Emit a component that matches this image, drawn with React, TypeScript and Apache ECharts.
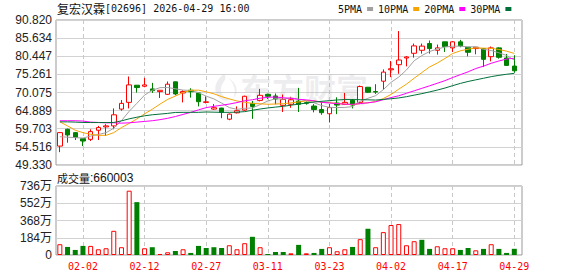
import React, { useEffect, useRef } from "react";
import * as echarts from "echarts";

// ---- data ----
const dates = [
  "01-28", "01-29", "01-30", "02-02", "02-03", "02-04", "02-05", "02-06", "02-09", "02-10",
  "02-11", "02-12", "02-13", "02-16", "02-20", "02-23", "02-24", "02-25", "02-26", "02-27",
  "03-02", "03-03", "03-04", "03-05", "03-06", "03-09", "03-10", "03-11", "03-12", "03-13",
  "03-16", "03-17", "03-18", "03-19", "03-20", "03-23", "03-24", "03-25", "03-26", "03-27",
  "03-30", "03-31", "04-01", "04-02", "04-08", "04-09", "04-10", "04-13", "04-14", "04-15",
  "04-16", "04-17", "04-20", "04-21", "04-22", "04-23", "04-24", "04-27", "04-28", "04-29",
];

const openP = [
  54.74, 59.55, 58.59, 56.86, 56.67, 59.27, 60.23, 60.52, 65.33, 67.25,
  72.16, 71.87, 71.1, 70.33, 69.56, 73.12, 69.94, 70.71, 69.95, 67.25,
  65.33, 65.62, 62.44, 64.27, 65.04, 66.96, 67.82, 69.56, 69.08, 66.4,
  66.7, 67.6, 67.15, 66.2, 65.2, 64.0, 67.06, 66.67, 67.83, 67.25,
  71.58, 70.35, 73.31, 76.58, 78.03, 79.95, 81.3, 82.16, 84.08, 82.16,
  84.57, 82.84, 84.57, 83.03, 82.64, 82.64, 80.33, 82.84, 79.95, 77.64,
];
const closeP = [
  58.59, 57.92, 57.25, 56.19, 58.88, 60.04, 60.52, 63.69, 66.96, 72.25,
  71.49, 72.25, 70.62, 70.71, 72.45, 69.66, 70.33, 70.3, 67.44, 67.4,
  65.72, 64.37, 63.88, 64.85, 68.99, 66.1, 69.27, 68.99, 68.22, 68.1,
  68.0, 66.7, 67.0, 65.2, 64.3, 65.75, 66.48, 67.25, 66.48, 71.77,
  70.14, 70.2, 75.91, 76.87, 79.37, 80.24, 83.41, 83.35, 82.64, 82.84,
  83.22, 84.57, 83.41, 81.58, 83.03, 79.57, 82.84, 80.14, 77.83, 76.29,
];
const lowP = [
  53.0, 55.71, 56.48, 54.74, 56.19, 56.48, 57.63, 59.55, 64.85, 65.52,
  70.04, 71.58, 69.95, 68.51, 69.37, 69.27, 67.25, 68.6, 66.1, 66.96,
  65.14, 62.73, 62.15, 64.08, 64.85, 62.53, 67.54, 68.22, 66.7, 64.5,
  65.7, 64.5, 66.6, 64.4, 63.69, 61.5, 63.88, 66.48, 65.52, 66.77,
  69.95, 69.66, 70.91, 74.46, 75.43, 77.55, 80.05, 81.2, 81.2, 80.91,
  81.68, 81.68, 83.03, 80.43, 81.01, 77.35, 78.99, 79.76, 77.8, 75.72,
];
const highP = [
  58.78, 59.75, 58.78, 56.9, 59.55, 60.52, 61.0, 65.52, 67.92, 74.66,
  72.2, 74.27, 72.83, 70.75, 73.22, 73.2, 70.71, 71.29, 70.0, 68.99,
  66.77, 65.7, 64.08, 66.1, 69.18, 67.64, 71.1, 69.76, 69.8, 69.5,
  68.85, 71.4, 67.5, 66.77, 67.5, 66.8, 68.7, 69.95, 68.22, 72.06,
  71.6, 72.45, 76.68, 79.08, 87.65, 80.53, 84.08, 84.08, 84.95, 83.8,
  84.6, 84.76, 85.14, 83.05, 83.05, 82.7, 83.22, 83.03, 81.1, 80.72,
];

// volume in 万 (10k shares)
const volume = [
  115, 86, 54, 97, 97, 61, 72, 258, 83, 686,
  564, 72, 83, 11, 29, 43, 61, 22, 97, 75,
  83, 75, 104, 61, 126, 194, 83, 11, 32, 32,
  18, 108, 18, 22, 65, 83, 40, 61, 86, 169,
  280, 83, 244, 320, 330, 104, 147, 162, 65, 93,
  72, 72, 54, 75, 50, 65, 115, 65, 22, 66,
];
// 1 = red (hollow) bar, -1 = green bar
const volUp = [
  1, -1, -1, -1, 1, 1, 1, 1, 1, 1,
  -1, 1, -1, 1, 1, -1, 1, -1, -1, -1,
  -1, -1, 1, 1, 1, -1, 1, -1, -1, -1,
  1, -1, 1, -1, -1, 1, 1, 1, -1, 1,
  -1, 1, 1, 1, 1, 1, 1, -1, -1, 1,
  1, 1, -1, -1, 1, -1, 1, -1, -1, -1,
];
const lastVolume = "660003";

const ma5 = [
  57.4, 57.3, 57.15, 57.05, 57.6, 58.06, 58.58, 59.86, 62.02, 64.69,
  66.98, 69.33, 70.71, 71.46, 71.5, 71.14, 70.75, 70.69, 70.03, 69.03,
  68.24, 67.05, 65.76, 65.24, 65.56, 65.64, 66.62, 67.64, 68.31, 68.16,
  68.58, 68.11, 67.71, 67.13, 66.32, 65.84, 65.76, 65.81, 66.04, 67.56,
  68.42, 69.17, 70.9, 72.98, 74.5, 76.52, 79.16, 80.65, 81.8, 82.5,
  83.09, 83.32, 83.34, 83.12, 83.16, 82.43, 82.09, 81.43, 80.68, 79.33,
];
const ma10 = [
  61.67, 60.52, 59.27, 58.59, 58.11, 57.82, 57.82, 58.59, 60.04, 61.23,
  62.52, 63.96, 65.29, 66.74, 68.1, 69.06, 70.04, 70.71, 70.75, 70.27,
  69.7, 68.9, 68.24, 67.65, 67.3, 66.95, 66.84, 66.71, 66.78, 66.86,
  67.11, 67.37, 67.68, 67.72, 67.24, 67.21, 66.94, 66.76, 66.59, 66.94,
  67.13, 67.47, 68.36, 69.51, 71.03, 72.47, 74.17, 75.78, 77.39, 78.5,
  79.81, 81.24, 82.0, 82.46, 82.83, 82.76, 82.71, 82.39, 81.9, 81.25,
];
const ma20 = [
  62.0, 62.0, 62.0, 61.9, 61.6, 61.5, 61.4, 61.4, 61.3, 61.4,
  61.6, 61.8, 62.0, 62.3, 62.7, 63.2, 63.8, 64.4, 65.1, 65.75,
  66.11, 66.43, 66.77, 67.2, 67.7, 68.0, 68.44, 68.71, 68.77, 68.57,
  68.41, 68.14, 67.96, 67.69, 67.27, 67.08, 66.89, 66.74, 66.69, 66.9,
  67.12, 67.42, 68.02, 68.62, 69.14, 69.84, 70.56, 71.27, 71.99, 72.72,
  73.47, 74.36, 75.18, 75.99, 76.93, 77.62, 78.44, 79.09, 79.65, 79.88,
];
const ma30 = [
  61.67, 61.67, 61.6, 61.5, 61.48, 61.48, 61.48, 61.5, 61.96, 62.54,
  63.0, 63.4, 63.7, 63.9, 64.1, 64.37, 64.4, 64.4, 64.4, 64.5,
  64.45, 64.4, 64.4, 64.45, 64.6, 65.0, 65.35, 65.65, 65.9, 66.12,
  66.44, 66.74, 67.07, 67.37, 67.55, 67.74, 67.94, 68.06, 68.04, 68.02,
  67.98, 67.91, 68.09, 68.29, 68.52, 68.88, 69.32, 69.75, 70.25, 70.77,
  71.35, 72.03, 72.68, 73.23, 73.7, 74.15, 74.61, 74.98, 75.29, 75.56,
];

const priceTickLabels = [
  "49.330", "54.516", "59.703", "64.889", "70.075", "75.261", "80.447", "85.634", "90.820",
];
const volTickMax = 7360000;
const volTickStep = 1840000;
const xLabelDates = ["02-02", "02-12", "02-27", "03-11", "03-23", "04-02", "04-17", "04-29"];

const maNames = ["5PMA", "10PMA", "20PMA", "30PMA"];
const maColors = ["#a0a0a0", "#f5a400", "#ff00ff", "#00703a"];

let logoRegistered = false;
function registerLogo() {
  if (logoRegistered) return;
  const d =
    "M12 0 C4 6 1 14 5 21 C8 26 14 28 19 25 C11 25 6 17 11 9 C13 6 15 3 12 0 Z " +
    "M15 3 C22 8 25 17 21 25 C27 19 26 9 15 3 Z";
  echarts.graphic.registerShape("logo", echarts.graphic.extendPath(d, {}));
  logoRegistered = true;
}

export default function App() {
  const ref = useRef<HTMLDivElement>(null);

  useEffect(() => {
    if (!ref.current) return;
    registerLogo();
    const chart = echarts.init(ref.current, null, { renderer: "svg" });

    const priceTicks = priceTickLabels.map(Number);
    const xTickIdx = xLabelDates.map((d) => dates.indexOf(d));
    const n = dates.length;

    const candleData = dates.map((_, i) => [i, openP[i], closeP[i], lowP[i], highP[i]]);
    const volData = volume.map((v, i) => ({
      value: [i, v * 10000],
      itemStyle:
        volUp[i] > 0
          ? { color: "#ffffff", borderColor: "#ff0000", borderWidth: 1 }
          : { color: "#008000", borderColor: "#008000", borderWidth: 0 },
    }));
    const maSeries = [ma5, ma10, ma20, ma30].map((arr, k) => ({
      type: "line",
      name: maNames[k],
      xAxisIndex: 0,
      yAxisIndex: 0,
      data: arr.map((v, i) => [i, v]),
      showSymbol: false,
      symbol: "none",
      silent: true,
      z: 4,
      color: maColors[k],
      itemStyle: { color: maColors[k] },
      lineStyle: { width: 1, color: maColors[k] },
    }));

    const xAxisBase = {
      type: "value",
      min: -0.5,
      max: n,
      axisLine: { show: false },
      axisTick: { show: false, customValues: xTickIdx },
      splitLine: { show: true, lineStyle: { color: "#c8c8c8", type: [4, 3], width: 1 } },
    };

    const wmColor = "rgba(175,175,185,0.22)";

    chart.setOption({
      animation: false,
      backgroundColor: "#ffffff",
      legend: {
        left: 338,
        top: 4,
        padding: 0,
        align: "right",
        icon: "rect",
        itemWidth: 6,
        itemHeight: 4,
        itemGap: 5,
        selectedMode: false,
        data: maNames,
        textStyle: { fontFamily: "DejaVu Sans Mono", fontSize: 10, color: "#111" },
      },
      grid: [
        { left: 56, top: 20, width: 466, height: 145, show: true, borderColor: "#999", borderWidth: 1, backgroundColor: "transparent" },
        { left: 56, top: 186, width: 466, height: 69, show: true, borderColor: "#999", borderWidth: 1, backgroundColor: "transparent" },
      ],
      xAxis: [
        { ...xAxisBase, gridIndex: 0, axisLabel: { show: false, customValues: xTickIdx } },
        {
          ...xAxisBase,
          gridIndex: 1,
          axisLabel: {
            show: true,
            customValues: xTickIdx,
            formatter: (v: number) => dates[Math.round(v)] || "",
            color: "#ff0000",
            fontFamily: "DejaVu Sans Mono",
            fontSize: 10,
            margin: 6,
          },
        },
      ],
      yAxis: [
        {
          type: "value",
          gridIndex: 0,
          min: priceTicks[0],
          max: priceTicks[priceTicks.length - 1],
          axisLine: { show: false },
          axisTick: { show: false, customValues: priceTicks },
          axisLabel: {
            customValues: priceTicks,
            formatter: (v: number) => v.toFixed(3),
            color: "#222",
            fontFamily: "Liberation Sans",
            fontSize: 12,
            margin: 4,
          },
          splitLine: { show: true, lineStyle: { color: "#d2d2d2", width: 1 } },
        },
        {
          type: "value",
          gridIndex: 1,
          min: 0,
          max: volTickMax,
          interval: volTickStep,
          axisLine: { show: false },
          axisTick: { show: false },
          axisLabel: {
            formatter: (v: number) => (v === 0 ? "0" : Math.round(v / 10000) + "万"),
            color: "#222",
            fontFamily: "Liberation Sans, Noto Sans CJK SC",
            fontSize: 12,
            margin: 4,
          },
          splitLine: { show: true, lineStyle: { color: "#d2d2d2", width: 1 } },
        },
      ],
      graphic: [
        {
          type: "logo",
          x: 212,
          y: 74,
          scaleX: 1,
          scaleY: 1,
          z: 1,
          silent: true,
          style: { fill: wmColor },
        },
        {
          type: "text",
          x: 240,
          y: 88,
          z: 1,
          silent: true,
          style: {
            text: "东方财富",
            fontSize: 32,
            fontWeight: "bold",
            fontFamily: "Noto Sans CJK SC",
            fill: wmColor,
            verticalAlign: "middle",
          },
        },
        {
          type: "text",
          x: 57,
          y: 8,
          style: {
            text: "{a|复宏汉霖}{b|[02696] 2026-04-29 16:00}",
            verticalAlign: "middle",
            rich: {
              a: { fontSize: 12, fontFamily: "Noto Sans CJK SC", fill: "#111" },
              b: { fontSize: 10, fontFamily: "DejaVu Sans Mono", fill: "#111" },
            },
          },
        },
        {
          type: "text",
          x: 57,
          y: 178,
          style: {
            text: "{a|成交量}{b|:" + lastVolume + "}",
            verticalAlign: "middle",
            rich: {
              a: { fontSize: 11, fontFamily: "Noto Sans CJK SC", fill: "#111" },
              b: { fontSize: 12, fontFamily: "Liberation Sans", fill: "#111" },
            },
          },
        },
      ],
      series: [
        {
          type: "candlestick",
          name: "K",
          xAxisIndex: 0,
          yAxisIndex: 0,
          data: candleData,
          barWidth: 5,
          z: 3,
          itemStyle: {
            color: "#ffffff",
            color0: "#008000",
            borderColor: "#ff0000",
            borderColor0: "#008000",
            borderWidth: 1,
          },
        },
        ...maSeries,
        {
          type: "bar",
          name: "VOL",
          xAxisIndex: 1,
          yAxisIndex: 1,
          barWidth: 5,
          data: volData,
          z: 3,
        },
      ],
    });

    return () => chart.dispose();
  }, []);

  return (
    <div
      ref={ref}
      style={{ position: "fixed", left: 0, top: 0, width: 578, height: 276, background: "#fff" }}
    />
  );
}
